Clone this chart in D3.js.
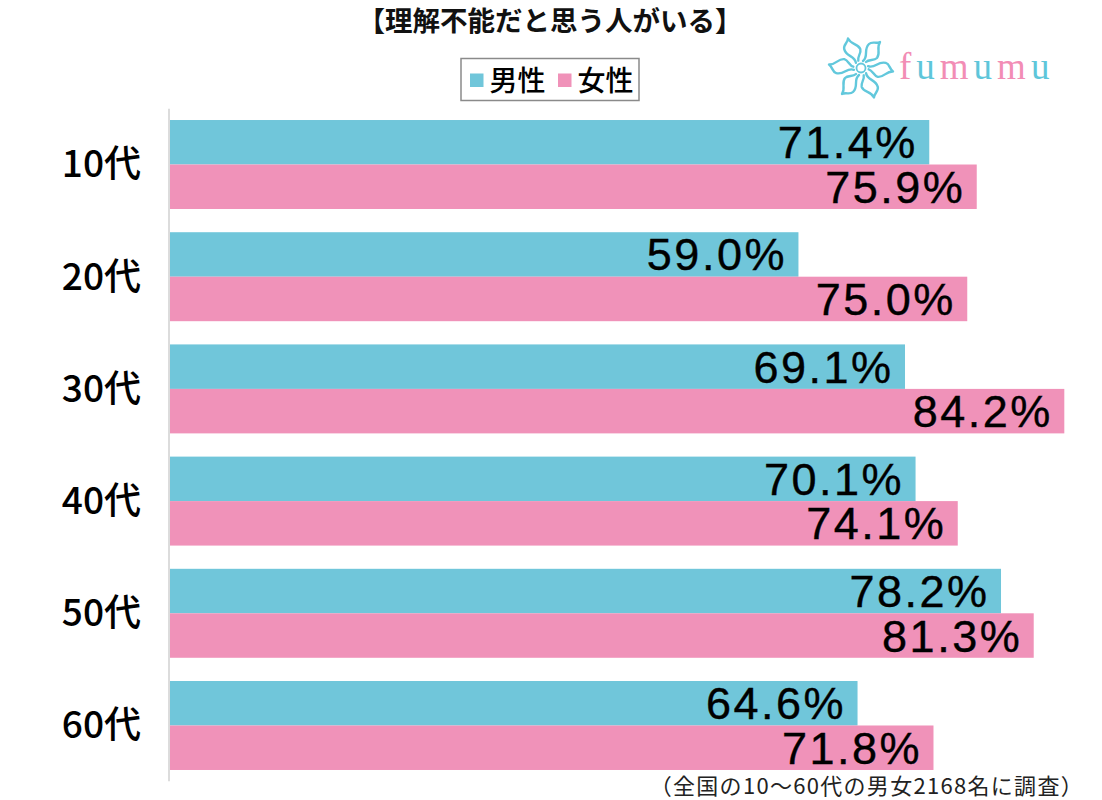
<!DOCTYPE html>
<html>
<head>
<meta charset="utf-8">
<script src="https://cdn.jsdelivr.net/npm/d3@7"></script>
<style>
  html, body { margin: 0; padding: 0; background: #fff; }
  svg { display: block; }
</style>
</head>
<body>
<svg id="chart" width="1102" height="800"></svg>
<script>
const title = "【理解不能だと思う人がいる】";
const categories = ["10代", "20代", "30代", "40代", "50代", "60代"];
const seriesNames = ["男性", "女性"];
const male = [71.4, 59.0, 69.1, 70.1, 78.2, 64.6];
const female = [75.9, 75.0, 84.2, 74.1, 81.3, 71.8];
const note = "（全国の10〜60代の男女2168名に調査）";
const logoLetters = ["f", "u", "m", "u", "m", "u"];

const colors = { "男性": "#70c6da", "女性": "#f092b9" };
const jp = "'Noto Sans CJK JP', 'Noto Sans', sans-serif";
const num = "'Liberation Sans', Arial, sans-serif";

const svg = d3.select("#chart");
const W = 1102, H = 800;
svg.append("rect").attr("width", W).attr("height", H).attr("fill", "#fff");

const plotLeft = 170;
const x = d3.scaleLinear().domain([0, 100]).range([176, 1231]);
const y = d3.scaleBand().domain(categories).range([108.8, 781.2])
  .paddingInner(0.207).paddingOuter(0.1);
const ySub = d3.scaleBand().domain(seriesNames).range([0, y.bandwidth()]);

const rows = categories.map((c, i) => ({ cat: c, vals: [
  { s: "男性", v: male[i] }, { s: "女性", v: female[i] } ] }));

// Axis line
svg.append("line")
  .attr("x1", plotLeft - 1).attr("x2", plotLeft - 1)
  .attr("y1", y.range()[0]).attr("y2", y.range()[1])
  .attr("stroke", "#dcdcdc").attr("stroke-width", 2);

const g = svg.selectAll("g.row").data(rows).join("g")
  .attr("class", "row")
  .attr("transform", d => `translate(0,${y(d.cat)})`);

g.selectAll("rect").data(d => d.vals).join("rect")
  .attr("x", plotLeft)
  .attr("y", d => ySub(d.s))
  .attr("width", d => x(d.v) - plotLeft)
  .attr("height", ySub.bandwidth())
  .attr("fill", d => colors[d.s]);

const fs = 45;
g.selectAll("text.val").data(d => d.vals).join("text")
  .attr("class", "val")
  .attr("x", d => x(d.v) - 11.5)
  .attr("y", d => ySub(d.s) + ySub.bandwidth() / 2 + fs * 0.355)
  .attr("text-anchor", "end")
  .attr("font-family", num)
  .attr("font-size", fs)
  .attr("letter-spacing", 2.5)
  .attr("stroke", "#000").attr("stroke-width", 0.4)
  .attr("fill", "#000")
  .text(d => d.v.toFixed(1) + "%");

// Category labels
svg.selectAll("text.cat").data(categories).join("text")
  .attr("class", "cat")
  .attr("x", 141)
  .attr("y", d => y(d) + y.bandwidth() / 2)
  .attr("dy", "0.35em")
  .attr("text-anchor", "end")
  .attr("font-family", jp)
  .attr("font-weight", 500)
  .attr("font-size", 37)
  .attr("fill", "#000")
  .text(d => d);

// Title
svg.append("text")
  .attr("x", 550).attr("y", 21).attr("dy", "0.36em")
  .attr("text-anchor", "middle")
  .attr("font-family", jp).attr("font-weight", 700)
  .attr("font-size", 27.5).attr("fill", "#111")
  .text(title);

// Legend
const leg = svg.append("g");
leg.append("rect").attr("x", 461).attr("y", 58.5).attr("width", 178).attr("height", 42)
  .attr("fill", "#fff").attr("stroke", "#8a8a8a").attr("stroke-width", 1.5);
const legX = [470, 558];
seriesNames.forEach((s, i) => {
  leg.append("rect").attr("x", legX[i]).attr("y", 73.5).attr("width", 13.5).attr("height", 13.5)
    .attr("fill", colors[s]);
  leg.append("text").attr("x", legX[i] + 19.5).attr("y", 80.5).attr("dy", "0.36em")
    .attr("font-family", jp).attr("font-weight", 500).attr("font-size", 28).attr("fill", "#000")
    .text(s);
});

// Logo icon (stylised ribbon pinwheel)
const logo = svg.append("g").attr("transform", "translate(861,68)");
d3.range(6).forEach(k => {
  logo.append("path")
    .attr("transform", `rotate(${k * 60})`)
    .attr("d", "M2,-7 C8,-12 2,-18 8,-24 C11,-27 15,-24 19,-26 C15,-20 20,-15 16,-10 C13,-7 8,-9 5,-6")
    .attr("fill", "none").attr("stroke", "#62c8dc").attr("stroke-width", 2.4)
    .attr("stroke-linejoin", "round").attr("stroke-linecap", "round");
});
logo.append("circle").attr("r", 4.5).attr("fill", "none").attr("stroke", "#62c8dc").attr("stroke-width", 1.8);

const logoText = svg.append("text").attr("x", 899).attr("y", 79)
  .attr("font-family", "'Liberation Serif', 'DejaVu Serif', serif")
  .attr("font-size", 37).attr("letter-spacing", 5);
logoLetters.forEach((ch, i) => {
  logoText.append("tspan").attr("fill", i % 2 === 0 ? "#f28db5" : "#5ec6da").text(ch);
});

// Footnote
svg.append("text")
  .attr("x", 1084).attr("y", 786).attr("dy", "0.36em")
  .attr("text-anchor", "end")
  .attr("font-family", jp).attr("font-size", 22).attr("letter-spacing", 1.3).attr("fill", "#222")
  .text(note);
</script>
</body>
</html>
